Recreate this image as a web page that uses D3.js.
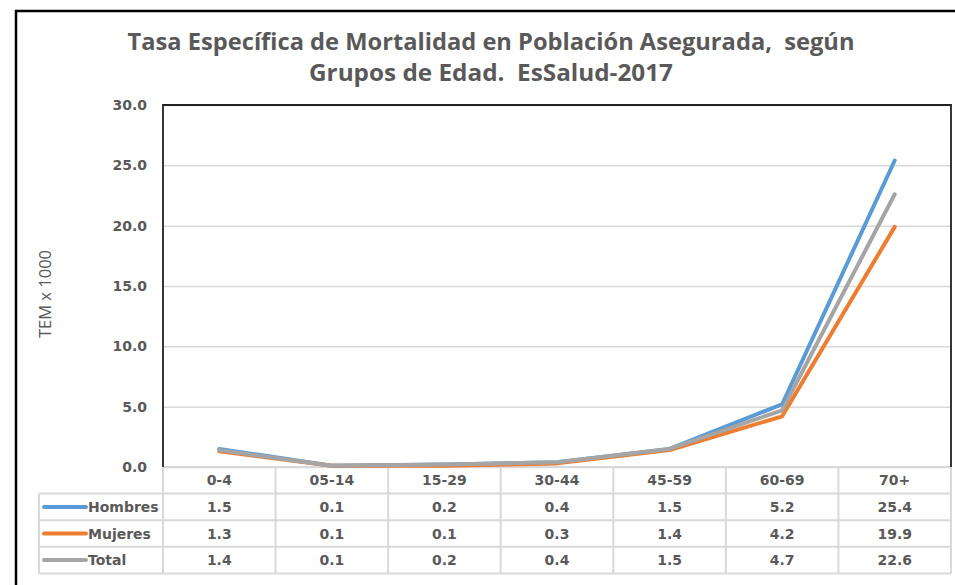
<!DOCTYPE html>
<html>
<head>
<meta charset="utf-8">
<script src="https://cdn.jsdelivr.net/npm/d3@7"></script>
<style>
  body { margin: 0; background: #fff; }
  .tick text { font-family: "DejaVu Sans", Verdana, sans-serif; font-weight: bold; font-size: 14px; fill: #595959; }
  .cell-text { font-family: "DejaVu Sans", Verdana, sans-serif; font-weight: bold; font-size: 14px; fill: #595959; }
</style>
</head>
<body>
<div id="chart-area"></div>
<script>
var grupos = ["0-4", "05-14", "15-29", "30-44", "45-59", "60-69", "70+"];
var hombres = [1.5, 0.1, 0.2, 0.4, 1.5, 5.2, 25.4];
var mujeres = [1.3, 0.1, 0.1, 0.3, 1.4, 4.2, 19.9];
var total   = [1.4, 0.1, 0.2, 0.4, 1.5, 4.7, 22.6];
var seriesNames = ["Hombres", "Mujeres", "Total"];
var seriesColors = ["#5b9bd5", "#ed7d31", "#a5a5a5"];
var yTicks = [0, 5, 10, 15, 20, 25, 30];
var titleLines = ["Tasa Específica de Mortalidad en Población Asegurada,  según", "Grupos de Edad.  EsSalud-2017"];
var titleWidths = [727, 364];

var series = [hombres, mujeres, total].map(function(vals, i){
    return { name: seriesNames[i], color: seriesColors[i], values: vals };
});

var W = 955, H = 585;
var plot = { left: 163, right: 951, top: 105, bottom: 467 };
var rowH = 26.6;
var legendLeft = 39;

var svg = d3.select("#chart-area")
    .append("svg")
        .attr("width", W)
        .attr("height", H);

// marco exterior
svg.append("path")
    .attr("d", "M16," + (H + 5) + "V11H" + (W + 5))
    .attr("fill", "none")
    .attr("stroke", "#000")
    .attr("stroke-width", 2.5);

// titulo
svg.selectAll(".title")
    .data(titleLines)
  .enter().append("text")
    .attr("class", "title")
    .attr("x", 491)
    .attr("y", function(d, i){ return 50 + i * 31; })
    .attr("text-anchor", "middle")
    .attr("font-family", "'Open Sans', sans-serif")
    .attr("font-weight", "bold")
    .attr("font-size", "22.5px")
    .attr("fill", "#595959")
    .attr("textLength", function(d, i){ return titleWidths[i]; })
    .attr("lengthAdjust", "spacingAndGlyphs")
    .style("white-space", "pre")
    .text(function(d){ return d; });

var x = d3.scaleBand()
    .domain(grupos)
    .range([plot.left, plot.right])
    .paddingInner(0)
    .paddingOuter(0);

var y = d3.scaleLinear()
    .domain([0, 30])
    .range([plot.bottom, plot.top]);

// lineas de cuadricula
svg.append("g")
    .attr("class", "grid")
    .attr("transform", "translate(" + plot.left + ",0)")
    .call(d3.axisLeft(y).tickValues(yTicks).tickSize(-(plot.right - plot.left)).tickFormat(""))
    .call(function(g){ g.select(".domain").remove(); })
    .call(function(g){ g.selectAll("line").attr("stroke", "#d9d9d9").attr("stroke-width", 1.5); });

// eje y
svg.append("g")
    .attr("class", "y-axis")
    .attr("transform", "translate(" + (plot.left - 16) + ",0)")
    .call(d3.axisLeft(y).tickValues(yTicks).tickSize(0).tickPadding(0).tickFormat(d3.format(".1f")))
    .call(function(g){ g.select(".domain").remove(); });

svg.append("text")
    .attr("transform", "translate(51," + 294 + ") rotate(-90)")
    .attr("text-anchor", "middle")
    .attr("font-family", "'Open Sans', sans-serif")
    .attr("font-size", "16.5px")
    .attr("fill", "#595959")
    .text("TEM x 1000");

// tabla de datos
var tableTop = plot.bottom;
var gridColor = "#d9d9d9";
var table = svg.append("g").attr("class", "table");

// lineas horizontales
table.append("line")
    .attr("x1", plot.left).attr("x2", plot.right)
    .attr("y1", tableTop).attr("y2", tableTop);
d3.range(1, 5).forEach(function(r){
    table.append("line")
        .attr("x1", legendLeft).attr("x2", plot.right)
        .attr("y1", tableTop + r * rowH).attr("y2", tableTop + r * rowH);
});
// lineas verticales
grupos.forEach(function(g){
    table.append("line")
        .attr("x1", x(g)).attr("x2", x(g))
        .attr("y1", tableTop).attr("y2", tableTop + 4 * rowH);
});
table.append("line")
    .attr("x1", plot.right).attr("x2", plot.right)
    .attr("y1", tableTop).attr("y2", tableTop + 4 * rowH);
table.append("line")
    .attr("x1", legendLeft).attr("x2", legendLeft)
    .attr("y1", tableTop + rowH).attr("y2", tableTop + 4 * rowH);
table.selectAll("line")
    .attr("stroke", gridColor)
    .attr("stroke-width", 2);

// encabezados
table.selectAll(".head")
    .data(grupos)
  .enter().append("text")
    .attr("class", "cell-text head")
    .attr("x", function(d){ return x(d) + x.bandwidth() / 2; })
    .attr("y", tableTop + rowH / 2)
    .attr("dy", "0.36em")
    .attr("text-anchor", "middle")
    .text(function(d){ return d; });

var rows = table.selectAll(".row")
    .data(series)
  .enter().append("g")
    .attr("class", "row")
    .attr("transform", function(d, i){ return "translate(0," + (tableTop + (i + 1) * rowH + rowH / 2) + ")"; });

rows.append("line")
    .attr("x1", legendLeft + 5).attr("x2", legendLeft + 47)
    .attr("y1", 0).attr("y2", 0)
    .attr("stroke", function(d){ return d.color; })
    .attr("stroke-width", 4)
    .attr("stroke-linecap", "round");

rows.append("text")
    .attr("class", "cell-text")
    .attr("x", legendLeft + 49)
    .attr("dy", "0.36em")
    .text(function(d){ return d.name; });

rows.selectAll(".val")
    .data(function(d){ return d.values; })
  .enter().append("text")
    .attr("class", "cell-text val")
    .attr("x", function(d, i){ return x(grupos[i]) + x.bandwidth() / 2; })
    .attr("dy", "0.36em")
    .attr("text-anchor", "middle")
    .text(function(d){ return d.toFixed(1); });

// lineas de series
var line = d3.line()
    .x(function(d, i){ return x(grupos[i]) + x.bandwidth() / 2; })
    .y(function(d){ return y(d); });

svg.selectAll(".serie")
    .data(series)
  .enter().append("path")
    .attr("class", "serie")
    .attr("d", function(d){ return line(d.values); })
    .attr("fill", "none")
    .attr("stroke", function(d){ return d.color; })
    .attr("stroke-width", 4)
    .attr("stroke-linejoin", "round")
    .attr("stroke-linecap", "round");

// borde del area de trazado
svg.append("path")
    .attr("d", "M" + plot.left + "," + plot.bottom + "V" + plot.top + "H" + plot.right + "V" + plot.bottom)
    .attr("fill", "none")
    .attr("stroke", "#222")
    .attr("stroke-width", 1.8);
</script>
</body>
</html>
